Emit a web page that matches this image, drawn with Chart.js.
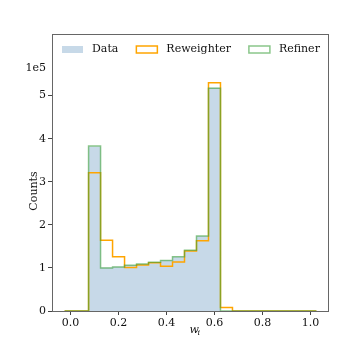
<!DOCTYPE html>
<html>
<head>
<meta charset="utf-8">
<title>w_i histogram</title>
<script src="https://cdn.jsdelivr.net/npm/chart.js@4.4.1/dist/chart.umd.min.js"></script>
<style>
  html, body { margin: 0; padding: 0; background: #fff; }
  #chart { display: block; }
</style>
</head>
<body>
<canvas id="chart" width="346" height="346"></canvas>
<script>
// Histogram bins (centres), width 0.05
const binCenters = [0.00, 0.05, 0.10, 0.15, 0.20, 0.25, 0.30, 0.35, 0.40, 0.45, 0.50,
                    0.55, 0.60, 0.65, 0.70, 0.75, 0.80, 0.85, 0.90, 0.95, 1.00];
const binWidth = 0.05;

// Counts
const dataCounts = [0, 0, 382000, 101000, 103000, 106000, 109000, 113000, 118000, 126000, 140000,
                    174000, 518000, 0, 0, 0, 0, 0, 0, 0, 0];
const reweighterCounts = [0, 0, 321000, 164000, 126000, 101000, 107000, 112000, 104000, 114000, 139000,
                          163000, 530000, 8000, 0, 0, 0, 0, 0, 0, 0];
const refinerCounts = [0, 0, 383000, 100000, 102000, 106000, 109000, 113000, 117000, 126000, 141000,
                       174000, 517000, 0, 0, 0, 0, 0, 0, 0, 0];

const xTicks = [0.0, 0.2, 0.4, 0.6, 0.8, 1.0];
const yTicks = [0, 100000, 200000, 300000, 400000, 500000];

const serif = '"DejaVu Serif", serif';

// step points at bin edges
function toSteps(counts) {
    const pts = binCenters.map((c, i) => ({ x: c - binWidth / 2, y: counts[i] }));
    const last = binCenters.length - 1;
    pts.push({ x: binCenters[last] + binWidth / 2, y: counts[last] });
    return pts;
}

// Frame, legend and axis labels
const decorPlugin = {
    id: 'decor',
    afterDraw(chart) {
        const ctx = chart.ctx;
        const a = chart.chartArea;
        ctx.save();
        ctx.strokeStyle = '#666';
        ctx.lineWidth = 1;
        ctx.strokeRect(Math.round(a.left) + 0.5, Math.round(a.top) + 0.5,
                       Math.round(a.right - a.left) - 1, Math.round(a.bottom - a.top));

        // legend inside the axes
        ctx.font = '11px ' + serif;
        ctx.textBaseline = 'middle';
        ctx.textAlign = 'left';
        let x = a.left + 10;
        const y = 49.5;
        chart.data.datasets.forEach(ds => {
            if (ds.label === 'Data') {
                ctx.fillStyle = ds.backgroundColor;
                ctx.fillRect(x, y - 3.5, 21, 7);
            } else {
                ctx.strokeStyle = ds.borderColor;
                ctx.lineWidth = 1.5;
                ctx.strokeRect(x, y - 3.5, 21, 7);
            }
            ctx.fillStyle = '#111';
            ctx.fillText(ds.label, x + 30, y);
            x += 30 + ctx.measureText(ds.label).width + 18;
        });

        // offset text
        ctx.textAlign = 'right';
        ctx.fillText('1e5', 46, 68);

        // y label
        ctx.save();
        ctx.translate(34, 191);
        ctx.rotate(-Math.PI / 2);
        ctx.textAlign = 'center';
        ctx.fillText('Counts', 0, 0);
        ctx.restore();

        // x label w_i
        ctx.textAlign = 'left';
        ctx.font = 'italic 11px ' + serif;
        ctx.fillText('w', 189.5, 330);
        ctx.font = 'italic 8px ' + serif;
        ctx.fillText('i', 197.5, 333);
        ctx.restore();
    }
};

new Chart(document.getElementById('chart'), {
    type: 'line',
    data: {
        datasets: [
            {
                label: 'Data',
                data: toSteps(dataCounts),
                stepped: 'before',
                fill: 'origin',
                backgroundColor: 'rgba(70, 130, 180, 0.3)',
                borderWidth: 0,
                borderColor: 'rgba(0,0,0,0)',
                pointRadius: 0,
                order: 3
            },
            {
                label: 'Reweighter',
                data: toSteps(reweighterCounts),
                stepped: 'before',
                fill: false,
                borderColor: '#ffa500',
                backgroundColor: 'rgba(0,0,0,0)',
                borderWidth: 1.5,
                pointRadius: 0,
                order: 2
            },
            {
                label: 'Refiner',
                data: toSteps(refinerCounts),
                stepped: 'before',
                fill: false,
                borderColor: 'rgba(60, 160, 60, 0.6)',
                backgroundColor: 'rgba(0,0,0,0)',
                borderWidth: 1.5,
                pointRadius: 0,
                order: 1
            }
        ]
    },
    options: {
        responsive: false,
        animation: false,
        layout: { padding: { top: 34, right: 17, left: 0, bottom: 0 } },
        plugins: {
            legend: { display: false },
            tooltip: { enabled: false }
        },
        scales: {
            x: {
                type: 'linear',
                min: -0.0775,
                max: 1.0775,
                afterBuildTicks: scale => { scale.ticks = xTicks.map(v => ({ value: v })); },
                afterFit: scale => { scale.height = 35; },
                border: { display: false },
                grid: { drawOnChartArea: false, drawTicks: true, tickLength: 4, color: '#444' },
                ticks: {
                    padding: 2,
                    color: '#111',
                    font: { family: serif, size: 11 },
                    maxRotation: 0,
                    callback: v => v.toFixed(1)
                }
            },
            y: {
                type: 'linear',
                min: 0,
                max: 643000,
                afterBuildTicks: scale => { scale.ticks = yTicks.map(v => ({ value: v })); },
                afterFit: scale => { scale.width = 52; },
                border: { display: false },
                grid: { drawOnChartArea: false, drawTicks: true, tickLength: 4, color: '#444' },
                ticks: {
                    padding: 2,
                    color: '#111',
                    font: { family: serif, size: 11 },
                    callback: v => String(v / 100000)
                }
            }
        }
    },
    plugins: [decorPlugin]
});
</script>
</body>
</html>
